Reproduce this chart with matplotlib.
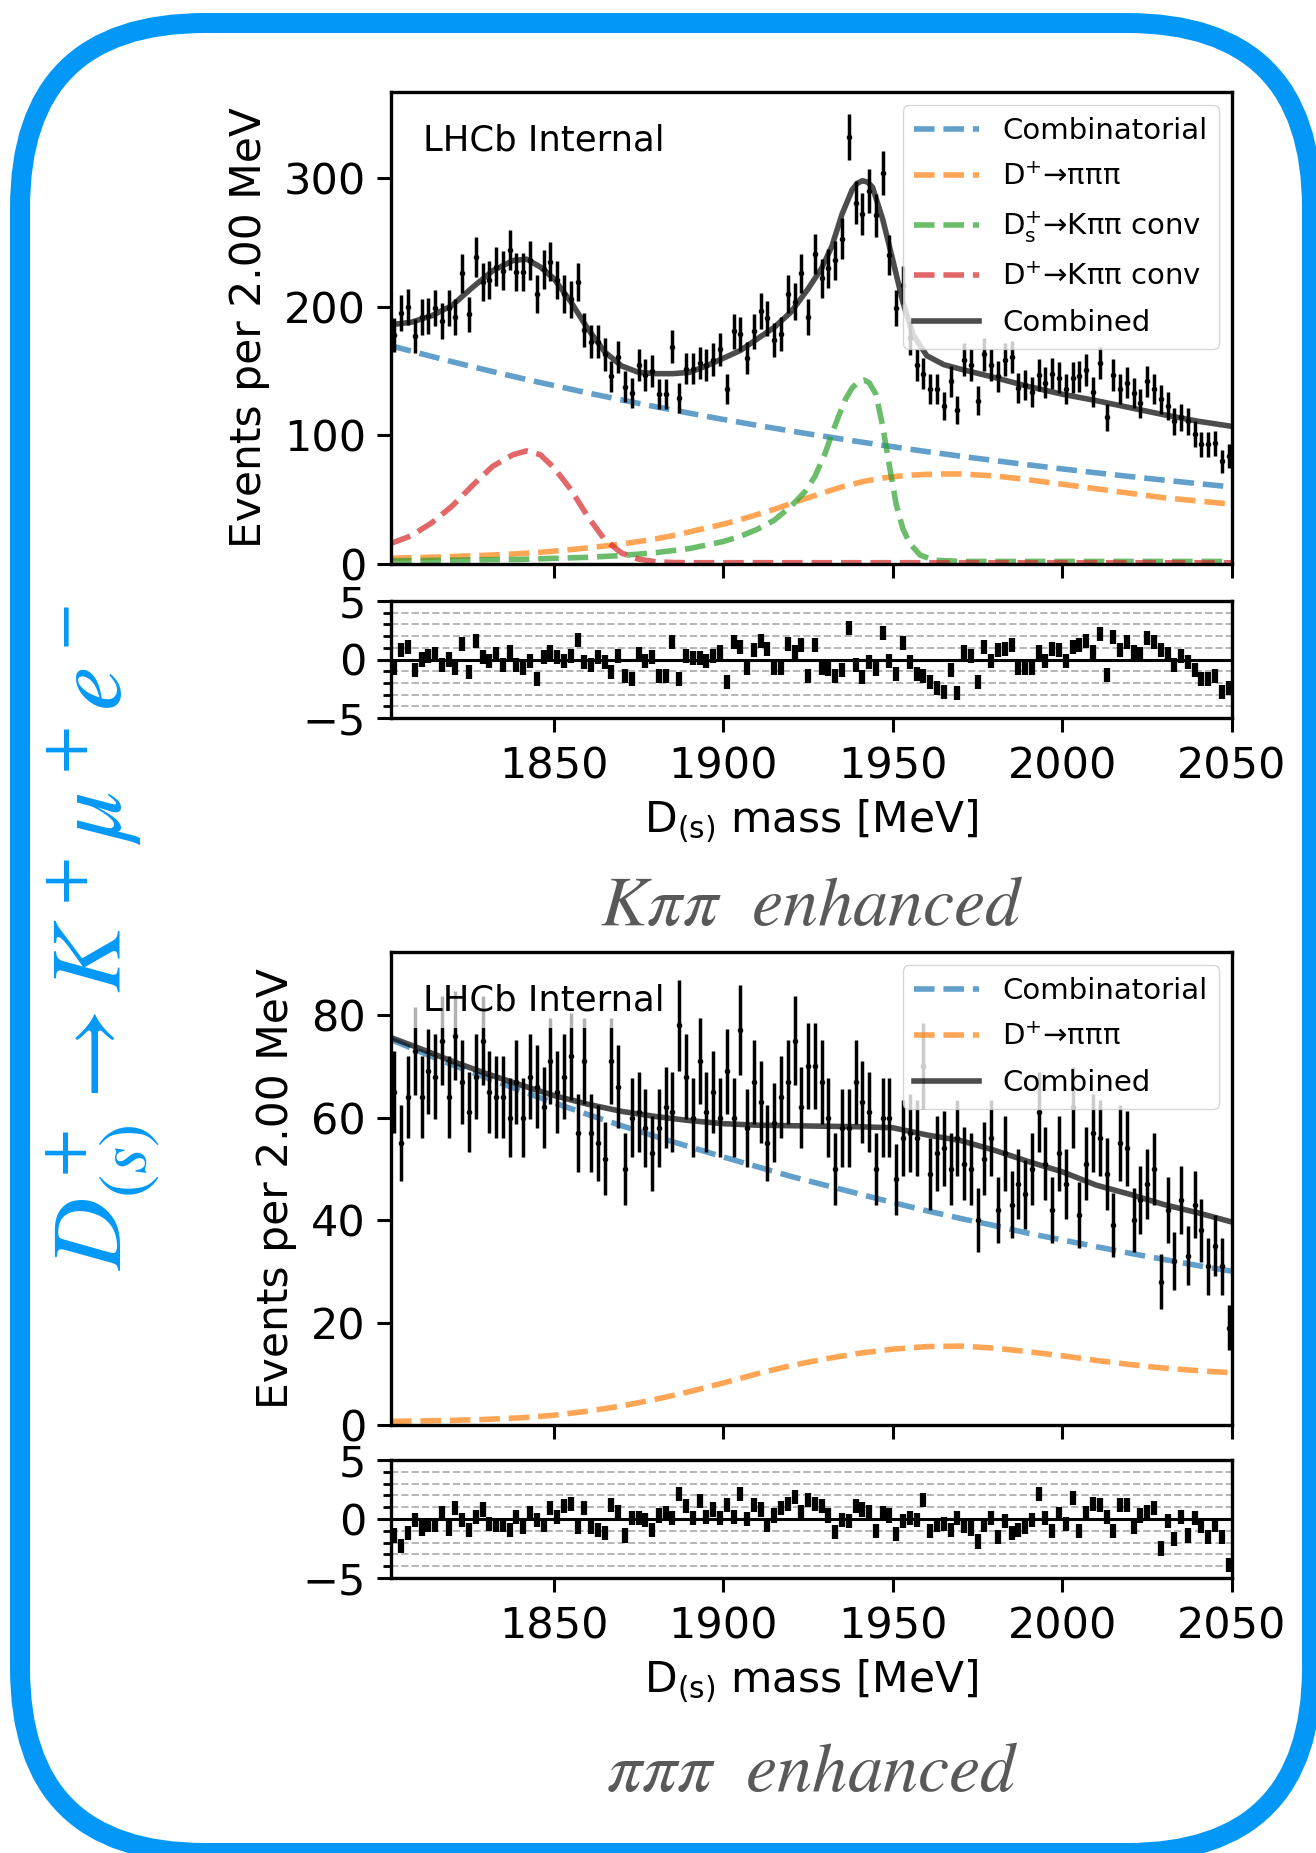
import matplotlib

matplotlib.use("Agg")
import matplotlib.pyplot as plt
import numpy as np
from matplotlib.patches import FancyBboxPatch
from matplotlib.ticker import MultipleLocator

# ── Data ──────────────────────────────────────────────────────────────────────
# 2 MeV bins, centres 1803 ... 2049
mass = np.arange(1803, 2050, 2)

# Kpipi enhanced selection
kpp_counts = [
    178, 195, 200, 177, 192, 193, 199, 189, 199, 192,
    226, 194, 239, 219, 221, 231, 228, 244, 227, 227,
    236, 210, 229, 235, 221, 210, 206, 219, 182, 173,
    173, 163, 146, 161, 138, 133, 155, 147, 150, 132,
    132, 169, 129, 152, 152, 156, 155, 159, 167, 136,
    181, 179, 160, 181, 197, 191, 174, 179, 210, 204,
    226, 192, 241, 222, 230, 236, 253, 332, 281, 272,
    290, 271, 304, 240, 199, 217, 176, 155, 148, 136,
    136, 123, 142, 120, 159, 155, 127, 163, 155, 146,
    159, 161, 137, 139, 134, 147, 141, 148, 145, 136,
    145, 146, 151, 134, 156, 114, 147, 136, 141, 133,
    125, 142, 136, 128, 123, 111, 114, 111, 101, 93,
    93, 94, 80, 84,
]
kpp_pull = [
    -0.7, 0.8, 1.1, -0.9, 0.0, 0.3, 0.5, -0.5, 0.0, -0.7,
    1.3, -1.1, 1.6, 0.2, -0.1, 0.5, -0.5, 0.6, -0.5, -0.7,
    -0.1, -1.7, 0.2, 0.6, 0.2, -0.1, 0.3, 1.7, -0.2, -0.5,
    0.2, -0.2, -1.1, 0.3, -1.4, -1.7, 0.5, -0.1, 0.2, -1.4,
    -1.4, 1.5, -1.7, 0.3, 0.1, 0.1, -0.1, 0.3, 0.6, -1.9,
    1.5, 1.1, -0.7, 0.8, 1.6, 0.9, -0.7, -0.7, 1.3, 0.6,
    1.2, -1.4, 1.2, -0.7, -0.8, -1.4, -0.9, 2.7, -0.5, -1.5,
    -0.2, -0.8, 2.3, -0.1, -1.2, 1.4, -0.2, -1.2, -1.4, -1.9,
    -2.4, -2.8, -0.9, -2.9, 0.6, 0.3, -1.9, 1.1, -0.1, 0.8,
    0.9, 1.2, -0.7, -0.7, -0.7, 0.6, -0.1, 0.9, 0.8, -0.1,
    1.1, 1.2, 1.6, 0.6, 2.2, -1.3, 1.9, 0.8, 1.5, 0.6,
    0.5, 1.8, 1.5, 0.8, 0.5, -0.5, 0.3, -0.2, -0.9, -1.7,
    -1.7, -1.4, -2.8, -2.4,
]
kpp_curve_mass = [
    1802, 1808, 1814, 1820, 1826, 1832, 1838, 1842, 1846, 1850,
    1855, 1860, 1865, 1870, 1875, 1880, 1885, 1890, 1895, 1900,
    1905, 1910, 1915, 1920, 1925, 1929, 1932, 1935, 1938, 1939.5,
    1941, 1942.5, 1944, 1947, 1950, 1953, 1956, 1960, 1965, 1970,
    1980, 1990, 2000, 2010, 2020, 2030, 2040, 2050,
]
kpp_combinatorial = [
    169.7, 165.5, 161.4, 157.3, 153.4, 149.6, 145.9, 143.4, 141.1, 138.8,
    135.9, 133.0, 130.3, 127.6, 124.9, 122.3, 119.8, 117.3, 114.8, 112.4,
    110.1, 107.8, 105.6, 103.4, 101.2, 99.6, 98.4, 97.1, 95.9, 95.3,
    94.7, 94.1, 93.5, 92.3, 91.2, 90.0, 88.9, 87.4, 85.6, 83.8,
    80.4, 77.1, 73.9, 70.9, 68.0, 65.2, 62.5, 59.9,
]
kpp_dp_pipipi = [
    4.5, 4.9, 5.3, 5.8, 6.4, 7.0, 7.8, 8.4, 9.1, 10.0,
    11.2, 12.5, 14.0, 15.5, 17.5, 19.5, 22.0, 25.0, 28.0, 31.0,
    34.5, 38.5, 42.5, 47.0, 51.5, 55.0, 57.5, 60.0, 62.0, 63.0,
    64.0, 64.8, 65.5, 66.8, 67.8, 68.6, 69.2, 69.7, 70.0, 70.0,
    68.5, 65.5, 62.0, 58.5, 55.0, 51.5, 49.0, 46.5,
]
kpp_dp_kpipi = [
    16.0, 22.0, 32.0, 45.0, 61.0, 76.0, 85.0, 88.0, 85.0, 75.0,
    58.0, 37.0, 19.0, 8.5, 3.8, 1.8, 1.2, 1.0, 1.0, 1.0,
    1.0, 1.0, 1.0, 1.0, 1.0, 1.0, 1.0, 1.0, 1.0, 1.0,
    1.0, 1.0, 1.0, 1.0, 1.0, 1.0, 1.0, 1.0, 1.0, 1.0,
    1.0, 1.0, 1.0, 1.0, 1.0, 1.0, 1.0, 1.0,
]
kpp_combined = [
    186, 188, 193, 201, 215, 228, 236, 237, 231, 222,
    204, 183, 165, 154, 149, 148, 148, 149, 154, 160,
    166, 175, 184, 196, 214, 230, 247, 272, 291, 296,
    298, 297, 293, 268, 236, 203, 178, 162, 155, 151.5,
    145, 138, 132, 127, 121.5, 116, 111, 107,
]
# the Ds peak is narrow, so it gets its own finer sampling
kpp_ds_mass = [
    1802, 1820, 1840, 1860, 1870, 1880, 1890, 1900, 1905, 1910,
    1915, 1920, 1924, 1927, 1930, 1932, 1934, 1936, 1938, 1940,
    1941.5, 1943, 1945, 1947, 1949, 1951, 1953, 1955, 1958, 1962,
    1970, 2050,
]
kpp_ds_kpipi = [
    2.5, 3.0, 3.6, 5.2, 6.6, 8.8, 12.0, 17.5, 21.5, 27.0,
    34.0, 45.0, 56.0, 68.0, 86.0, 101.0, 115.0, 128.0, 137.0, 142.0,
    143.0, 141.0, 132.0, 107.0, 76.0, 46.0, 27.0, 16.0, 7.0, 3.0,
    2.0, 2.0,
]

# pipipi enhanced selection
ppp_counts = [
    65, 55, 64, 73, 64, 69, 68, 75, 64, 76,
    67, 61, 68, 75, 65, 64, 64, 60, 67, 60,
    68, 66, 62, 71, 65, 68, 72, 57, 71, 57,
    55, 52, 71, 66, 50, 60, 61, 58, 53, 58,
    62, 61, 78, 68, 60, 71, 61, 65, 60, 69,
    60, 77, 58, 67, 63, 55, 59, 64, 67, 75,
    62, 70, 70, 67, 60, 50, 58, 58, 67, 63,
    61, 50, 60, 60, 48, 56, 57, 56, 70, 49,
    53, 54, 50, 56, 51, 50, 40, 52, 56, 42,
    53, 43, 47, 45, 50, 61, 51, 42, 53, 47,
    62, 41, 51, 57, 56, 49, 39, 55, 54, 40,
    44, 47, 50, 28, 42, 32, 44, 33, 43, 38,
    31, 35, 31, 19,
]
ppp_pull = [
    -1.4, -2.3, -1.2, -0.1, -0.8, -0.5, -0.5, 0.5, -0.8, 0.9,
    -0.1, -0.9, 0.2, 0.8, -0.4, -0.5, -0.5, -0.9, 0.2, -0.7,
    0.5, -0.1, -0.5, 0.9, 0.2, 1.1, 1.3, -0.7, 0.9, -0.7,
    -0.9, -1.2, 1.2, 0.6, -1.4, 0.1, 0.1, -0.1, -0.9, 0.3,
    0.5, 0.1, 2.1, 1.1, 0.1, 1.5, 0.2, 0.8, 0.1, 1.2,
    0.2, 2.1, 0.0, 1.2, 0.8, -0.5, 0.3, 0.9, 1.3, 1.9,
    0.6, 1.6, 1.3, 1.1, 0.3, -1.1, -0.1, -0.2, 1.1, 0.8,
    0.6, -1.0, 0.5, 0.3, -1.3, -0.2, 0.1, -0.1, 1.6, -1.0,
    -0.5, -0.4, -0.9, 0.1, -0.6, -0.8, -1.9, -0.5, 0.1, -1.5,
    -0.2, -1.2, -0.9, -0.7, -0.1, 2.1, 0.1, -1.0, 0.4, -0.4,
    1.8, -1.0, 0.5, 1.3, 1.2, 0.2, -1.0, 1.2, 1.2, -0.7,
    0.3, 0.6, 0.9, -2.5, -0.2, -1.7, 0.2, -1.4, 0.1, -0.6,
    -1.5, -0.5, -1.5, -3.9,
]
ppp_curve_mass = [
    1802, 1810, 1820, 1830, 1840, 1850, 1860, 1870, 1880, 1890,
    1900, 1910, 1920, 1930, 1940, 1950, 1960, 1970, 1980, 1990,
    2000, 2010, 2020, 2030, 2040, 2050,
]
ppp_combinatorial = [
    75.2, 73.0, 70.3, 67.8, 65.3, 62.9, 60.6, 58.4, 56.3, 54.3,
    52.3, 50.4, 48.5, 46.8, 45.1, 43.4, 41.8, 40.3, 38.9, 37.4,
    36.1, 34.8, 33.5, 32.3, 31.1, 30.0,
]
ppp_dp_pipipi = [
    0.7, 0.8, 0.9, 1.1, 1.4, 1.9, 2.7, 3.7, 5.0, 6.5,
    8.2, 10.0, 11.6, 12.9, 14.0, 14.8, 15.3, 15.4, 15.0, 14.3,
    13.5, 12.6, 11.8, 11.1, 10.6, 10.2,
]
ppp_combined = [
    75.6, 73.6, 71.0, 68.6, 66.4, 64.3, 62.6, 61.2, 60.2, 59.4,
    58.8, 58.5, 58.4, 58.3, 58.2, 58.0, 56.6, 55.5, 53.6, 51.4,
    49.4, 46.8, 45.0, 43.0, 41.4, 39.6,
]

# ── Style ─────────────────────────────────────────────────────────────────────
plt.rcParams.update(
    {
        "font.family": "DejaVu Sans",
        "font.size": 30.5,
        "axes.linewidth": 2.4,
        "axes.labelpad": 8,
        "xtick.major.size": 10,
        "xtick.major.width": 2.2,
        "xtick.major.pad": 10,
        "ytick.major.size": 10,
        "ytick.major.width": 2.2,
        "ytick.major.pad": 8,
        "ytick.minor.size": 6,
        "ytick.minor.width": 2.0,
        "xtick.labelsize": 31,
        "ytick.labelsize": 31,
        "legend.fontsize": 21,
    }
)

BLUE = "#0398F8"
LEFT, WIDTH = 391 / 1316, 841 / 1316


def fig_box(top_px, bottom_px):
    return [LEFT, 1 - bottom_px / 1853, WIDTH, (bottom_px - top_px) / 1853]


def draw_panel(ax, ax_r, counts, pull, curves, ylim, ystep):
    handles = []
    for cmass, vals, color, label, ls in curves:
        (h,) = ax.plot(cmass, vals, color=color, alpha=0.7, ls=ls, lw=4.0,
                       label=label, zorder=2)
        handles.append(h)
    counts = np.asarray(counts, dtype=float)
    ax.errorbar(mass, counts, yerr=np.sqrt(counts), fmt="o", ms=3.0, color="k",
                elinewidth=2.5, capsize=0, zorder=3)
    ax.set_xlim(1802, 2050)
    ax.set_ylim(*ylim)
    ax.yaxis.set_major_locator(MultipleLocator(ystep))
    ax.set_ylabel("Events per 2.00 MeV", labelpad=10)
    ax.tick_params(labelbottom=False)
    ax.text(0.038, 0.876, "LHCb Internal", transform=ax.transAxes, fontsize=25.5,
            va="baseline", ha="left", zorder=4,
            bbox=dict(boxstyle="square,pad=0.3", fc="white", ec="none", alpha=0.7))
    ax.legend(handles=handles, loc="upper right", borderaxespad=0.45,
              handlelength=2.2, labelspacing=0.62)

    ax_r.errorbar(mass, pull, yerr=0.6, fmt="none", ecolor="k", elinewidth=4.5, capsize=0,
                  zorder=3)
    ax_r.axhline(0, color="k", lw=2.2, zorder=2)
    ax_r.set_xlim(1802, 2050)
    ax_r.set_ylim(-5, 5)
    ax_r.set_yticks([-5, 0, 5])
    ax_r.yaxis.set_minor_locator(MultipleLocator(1))
    ax_r.grid(which="minor", axis="y", ls="--", color="#b5b5b5", lw=1.4)
    ax_r.set_xticks([1850, 1900, 1950, 2000, 2050])
    ax_r.set_xlabel(r"D$_{\rm (s)}$ mass [MeV]", labelpad=7)


fig = plt.figure(figsize=(13.16, 18.53), dpi=100)

ax1 = fig.add_axes(fig_box(92, 564))
ax1r = fig.add_axes(fig_box(601, 718))
ax2 = fig.add_axes(fig_box(952, 1425))
ax2r = fig.add_axes(fig_box(1460, 1578))

draw_panel(
    ax1, ax1r, kpp_counts, kpp_pull,
    [
        (kpp_curve_mass, kpp_combinatorial, "#1f77b4", "Combinatorial", "--"),
        (kpp_curve_mass, kpp_dp_pipipi, "#ff7f0e", r"D$^{+}$→πππ", "--"),
        (kpp_ds_mass, kpp_ds_kpipi, "#2ca02c", r"D$_{\rm s}^{+}$→Kππ conv", "--"),
        (kpp_curve_mass, kpp_dp_kpipi, "#d62728", r"D$^{+}$→Kππ conv", "--"),
        (kpp_curve_mass, kpp_combined, "k", "Combined", "-"),
    ],
    (0, 367), 100,
)
draw_panel(
    ax2, ax2r, ppp_counts, ppp_pull,
    [
        (ppp_curve_mass, ppp_combinatorial, "#1f77b4", "Combinatorial", "--"),
        (ppp_curve_mass, ppp_dp_pipipi, "#ff7f0e", r"D$^{+}$→πππ", "--"),
        (ppp_curve_mass, ppp_combined, "k", "Combined", "-"),
    ],
    (0, 92.3), 20,
)

# ── Slide decorations ─────────────────────────────────────────────────────────
fig.text(0.617, 1 - 906 / 1853, r"$K\pi\pi\ \ \mathit{enhanced}$", ha="center", va="center",
         fontsize=50.5, color="#595959", math_fontfamily="stix")
fig.text(0.617, 1 - 1772 / 1853, r"$\pi\pi\pi\ \ \mathit{enhanced}$", ha="center", va="center",
         fontsize=50.5, color="#595959", math_fontfamily="stix")
fig.text(103 / 1316, 1 - 937 / 1853, r"$D^+_{(s)}\rightarrow K^+\mu^+e^-$", rotation=90,
         ha="center", va="center", fontsize=72, color=BLUE, math_fontfamily="stix")

frame = fig.add_axes([0, 0, 1, 1], zorder=10)
frame.set_xlim(0, 1316)
frame.set_ylim(1853, 0)
frame.axis("off")
frame.patch.set_alpha(0)
frame.add_patch(
    FancyBboxPatch((20, 23), 1292, 1830, boxstyle="round,pad=0,rounding_size=185",
                   fc="none", ec=BLUE, lw=14.4)
)

fig.savefig("out.png", dpi=100)
